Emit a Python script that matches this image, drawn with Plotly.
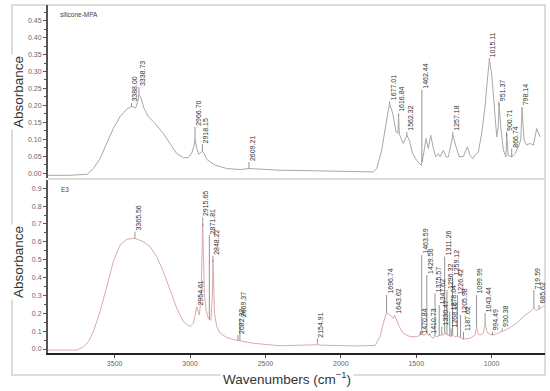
import numpy as np
import plotly.graph_objects as go

# ---------------- data ----------------
top_wn = [3942, 3800, 3683, 3641, 3597, 3552, 3509, 3464, 3420, 3388, 3360, 3345, 3339, 3325, 3305,
          3277, 3232, 3177, 3133, 3088, 3044, 3011, 2989, 2975, 2967, 2955, 2942, 2930, 2918, 2907,
          2889, 2867, 2834, 2757, 2668, 2609, 2491, 2403, 2249, 2027, 1784, 1762, 1729, 1696, 1677,
          1656, 1634, 1621, 1617, 1612, 1586, 1562, 1546, 1524, 1497, 1475, 1466, 1450, 1435, 1420,
          1404, 1386, 1371, 1353, 1342, 1320, 1302, 1287, 1257, 1236, 1214, 1187, 1161, 1143, 1125,
          1110, 1088, 1066, 1044, 1025, 1015, 1000, 984, 966, 956, 951, 938, 922, 905, 900,
          890, 867, 845, 823, 807, 798, 785, 767, 745, 723, 701, 688, 679]
top_abs = [-0.006, -0.006, -0.003, 0.014, 0.043, 0.088, 0.132, 0.167, 0.189, 0.197, 0.193, 0.215, 0.231, 0.222, 0.191,
           0.167, 0.147, 0.117, 0.088, 0.058, 0.046, 0.046, 0.060, 0.078, 0.100, 0.073, 0.056, 0.060, 0.065, 0.058,
           0.041, 0.034, 0.024, 0.014, 0.011, 0.014, 0.011, 0.009, 0.008, 0.006, 0.004, 0.014, 0.068, 0.157, 0.206,
           0.177, 0.122, 0.118, 0.172, 0.115, 0.088, 0.112, 0.098, 0.058, 0.038, 0.027, 0.024, 0.060, 0.103, 0.073,
           0.112, 0.073, 0.048, 0.058, 0.048, 0.068, 0.048, 0.048, 0.112, 0.078, 0.048, 0.050, 0.078, 0.053, 0.043,
           0.053, 0.063, 0.117, 0.196, 0.290, 0.335, 0.295, 0.196, 0.107, 0.137, 0.206, 0.130, 0.068, 0.048, 0.117,
           0.053, 0.048, 0.058, 0.078, 0.098, 0.191, 0.098, 0.083, 0.088, 0.083, 0.132, 0.117, 0.107]

bot_wn = [3942, 3751, 3707, 3674, 3641, 3597, 3552, 3509, 3464, 3420, 3366, 3310, 3265, 3221, 3177,
          3133, 3088, 3044, 3000, 2978, 2965, 2955, 2949, 2938, 2927, 2916, 2905, 2894, 2879, 2872,
          2862, 2852, 2848, 2838, 2823, 2801, 2757, 2700, 2682, 2669, 2580, 2403, 2160, 2155, 2149,
          1917, 1773, 1740, 1718, 1697, 1674, 1652, 1644, 1634, 1612, 1586, 1541, 1497, 1478, 1471,
          1467, 1464, 1458, 1440, 1430, 1420, 1411, 1400, 1386, 1376, 1364, 1348, 1330, 1320, 1311,
          1296, 1278, 1268, 1259, 1245, 1226, 1206, 1187, 1165, 1143, 1110, 1100, 1090, 1077, 1055,
          1043, 1030, 1022, 994, 966, 930, 922, 878, 834, 790, 745, 720, 705, 690, 670, 657, 646]
bot_abs = [-0.006, -0.006, 0.013, 0.041, 0.097, 0.209, 0.349, 0.489, 0.582, 0.614, 0.620, 0.601, 0.573, 0.517, 0.433,
           0.330, 0.228, 0.153, 0.125, 0.144, 0.200, 0.235, 0.215, 0.190, 0.293, 0.700, 0.312, 0.218, 0.172, 0.165,
           0.160, 0.293, 0.500, 0.200, 0.125, 0.088, 0.065, 0.050, 0.048, 0.046, 0.032, 0.018, 0.024, 0.038, 0.022,
           0.017, 0.020, 0.069, 0.144, 0.205, 0.190, 0.172, 0.190, 0.170, 0.125, 0.088, 0.069, 0.069, 0.075, 0.100,
           0.078, 0.110, 0.078, 0.080, 0.092, 0.075, 0.085, 0.068, 0.060, 0.075, 0.068, 0.075, 0.080, 0.078, 0.090,
           0.080, 0.075, 0.070, 0.080, 0.068, 0.072, 0.065, 0.055, 0.058, 0.060, 0.078, 0.125, 0.085, 0.078, 0.088,
           0.144, 0.095, 0.088, 0.078, 0.085, 0.100, 0.100, 0.120, 0.144, 0.181, 0.209, 0.230, 0.215, 0.220, 0.235, 0.240, 0.235]

top_peak_labels = ["3388.00", "3338.73", "2966.70", "2918.15", "2609.21", "1677.01", "1616.84", "1562.32",
                   "1462.44", "1257.18", "1015.11", "951.37", "900.71", "866.74", "798.14"]
top_peak_base = [0.207, 0.254, 0.137, 0.086, 0.033, 0.211, 0.177, 0.122,
                 0.246, 0.122, 0.340, 0.211, 0.122, 0.073, 0.196]

bot_peak_labels = ["3365.56", "2954.61", "2915.65", "2871.81", "2848.22", "2682.32", "2669.37", "2154.91",
                   "1696.74", "1643.62", "1470.84", "1463.59", "1429.56", "1410.73", "1375.57", "1347.62",
                   "1330.47", "1311.26", "1296.32", "1278.04", "1268.16", "1259.12", "1226.42", "1205.98",
                   "1187.02", "1099.99", "1043.44", "994.49", "930.38", "719.59", "685.62"]
bot_peak_base = [0.657, 0.237, 0.737, 0.638, 0.521, 0.078, 0.172, 0.060,
                 0.302, 0.190, 0.078, 0.526, 0.414, 0.078, 0.312, 0.246,
                 0.125, 0.517, 0.330, 0.209, 0.116, 0.405, 0.302, 0.190,
                 0.097, 0.302, 0.200, 0.097, 0.116, 0.330, 0.246]

top_yticks = [0.00, 0.05, 0.10, 0.15, 0.20, 0.25, 0.30, 0.35, 0.40, 0.45]
bot_yticks = [0.0, 0.1, 0.2, 0.3, 0.4, 0.5, 0.6, 0.7, 0.8, 0.9]
x_ticks = [3500, 3000, 2500, 2000, 1500, 1000]
top_name = "silicone-MPA"
bot_name = "E3"

# ---------------- figure ----------------
W, H = 550, 391
FONT = "Liberation Sans, Arial, sans-serif"


def px(x):
    return x / W


def py(y):
    return 1 - y / H


fig = go.Figure()
fig.add_trace(go.Scatter(x=top_wn, y=top_abs, mode="lines", xaxis="x", yaxis="y",
                         line=dict(color="#a8a8a8", width=1), hoverinfo="skip", showlegend=False))
fig.add_trace(go.Scatter(x=bot_wn, y=bot_abs, mode="lines", xaxis="x2", yaxis="y2",
                         line=dict(color="#dcaaaa", width=1), hoverinfo="skip", showlegend=False))


def peak_lines(labels, bases, wn, ab, xa, ya):
    wn_r = np.array(wn[::-1], dtype=float)
    ab_r = np.array(ab[::-1], dtype=float)
    xs, ys = [], []
    for lab, b in zip(labels, bases):
        w = float(lab)
        yb = float(np.interp(w, wn_r, ab_r))
        xs += [w, w, None]
        ys += [yb, b, None]
        fig.add_annotation(x=w, y=b, xref=xa, yref=ya, text=lab, textangle=-90,
                           xanchor="left", yanchor="bottom", showarrow=False, xshift=-1,
                           borderpad=0, font=dict(family=FONT, size=7, color="#333333"))
    fig.add_trace(go.Scatter(x=xs, y=ys, mode="lines", xaxis=xa, yaxis=ya,
                             line=dict(color="#666666", width=0.7), hoverinfo="skip", showlegend=False))


peak_lines(top_peak_labels, top_peak_base, top_wn, top_abs, "x", "y")
peak_lines(bot_peak_labels, bot_peak_base, bot_wn, bot_abs, "x2", "y2")

xdom = [px(48), px(545)]
xr = [3942, 646]
tickfont = dict(family=FONT, size=7, color="#666666")

fig.update_layout(
    width=W, height=H, margin=dict(l=0, r=0, t=0, b=0, pad=0),
    paper_bgcolor="white", plot_bgcolor="white", showlegend=False,
    xaxis=dict(domain=xdom, range=xr, anchor="y", showticklabels=False, showline=False,
               showgrid=False, zeroline=False, ticks=""),
    yaxis=dict(domain=[py(178), py(5)], range=[-0.0139, 0.496], anchor="x",
               showline=True, linecolor="#555555", linewidth=2, ticks="outside", ticklen=3,
               tickcolor="#555555", tickvals=top_yticks, tickformat=".2f", tickfont=tickfont,
               showgrid=False, zeroline=False,
               minor=dict(ticks="outside", ticklen=2, dtick=0.025, tickcolor="#555555")),
    xaxis2=dict(domain=xdom, range=xr, anchor="y2", showline=True, linecolor="#222222",
                linewidth=2, ticks="outside", ticklen=3, tickcolor="#444444", tickvals=x_ticks,
                tickfont=tickfont, showgrid=False, zeroline=False),
    yaxis2=dict(domain=[py(353), py(180)], range=[-0.0224, 0.946], anchor="x2",
                showline=True, linecolor="#555555", linewidth=2, ticks="outside", ticklen=3,
                tickcolor="#555555", tickvals=bot_yticks, tickformat=".1f", tickfont=tickfont,
                showgrid=False, zeroline=False,
                minor=dict(ticks="outside", ticklen=2, dtick=0.05, tickcolor="#555555")),
    shapes=[
        dict(type="rect", xref="paper", yref="paper", x0=px(12), x1=px(545), y0=py(375), y1=py(5),
             line=dict(color="#d2d2d2", width=1.5), layer="below"),
        dict(type="line", xref="paper", yref="paper", x0=px(48), x1=px(545), y0=py(179), y1=py(179),
             line=dict(color="#d2d2d2", width=1.5), layer="below"),
    ],
)

title_font = dict(family=FONT, size=13.5, color="#333333")
fig.add_annotation(x=px(18), y=py(92), xref="paper", yref="paper", text="Absorbance",
                   textangle=-90, showarrow=False, font=title_font, bgcolor="white",
                   xanchor="center", yanchor="middle")
fig.add_annotation(x=px(18), y=py(262), xref="paper", yref="paper", text="Absorbance",
                   textangle=-90, showarrow=False, font=title_font, bgcolor="white",
                   xanchor="center", yanchor="middle")
fig.add_annotation(x=px(287), y=py(378), xref="paper", yref="paper",
                   text="Wavenumbers (cm<sup>\u22121</sup>)", showarrow=False, font=title_font,
                   bgcolor="white", xanchor="center", yanchor="middle", borderpad=2)
fig.add_annotation(x=px(58), y=py(15), xref="paper", yref="paper", text=top_name,
                   showarrow=False, xanchor="left", yanchor="middle",
                   font=dict(family=FONT, size=6.5, color="#444444"))
fig.add_annotation(x=px(59), y=py(190), xref="paper", yref="paper", text=bot_name,
                   showarrow=False, xanchor="left", yanchor="middle",
                   font=dict(family=FONT, size=6.5, color="#444444"))

fig.write_html("out.html", config={"displayModeBar": False},
               post_script="document.body.style.margin='0';document.body.style.padding='0';"
                           "document.body.style.overflow='hidden';")
